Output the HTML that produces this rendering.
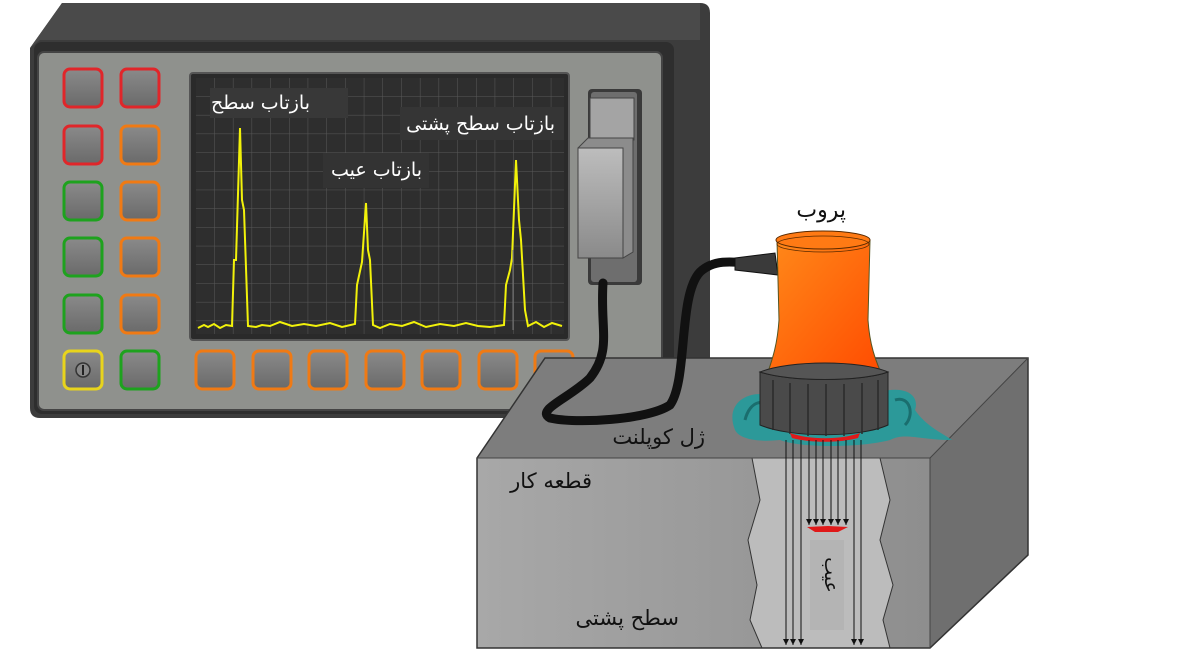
<!DOCTYPE html>
<html><head><meta charset="utf-8"><style>
html,body{margin:0;padding:0;background:#fff;width:1200px;height:653px;overflow:hidden}
svg text{font-family:"DejaVu Sans","Liberation Sans",sans-serif}
</style></head><body>
<svg width="1200" height="653" viewBox="0 0 1200 653" xmlns="http://www.w3.org/2000/svg">
<defs>
<linearGradient id="btn" x1="0" y1="0" x2="0" y2="1"><stop offset="0" stop-color="#8a8a8a"/><stop offset="1" stop-color="#6a6a6a"/></linearGradient>
<linearGradient id="org" x1="0" y1="0" x2="1" y2="1"><stop offset="0" stop-color="#ff8a1a"/><stop offset="1" stop-color="#ff4a00"/></linearGradient>
<linearGradient id="front" x1="0" y1="0" x2="1" y2="0"><stop offset="0" stop-color="#a8a8a8"/><stop offset="1" stop-color="#8e8e8e"/></linearGradient>
<linearGradient id="plug" x1="0" y1="0" x2="0" y2="1"><stop offset="0" stop-color="#bdbdbd"/><stop offset="1" stop-color="#8a8a8a"/></linearGradient>
<marker id="ar" markerWidth="6" markerHeight="6" refX="6" refY="3" orient="auto" markerUnits="userSpaceOnUse"><path d="M0,0 L6,3 L0,6 Z" fill="#111"/></marker>
<pattern id="grid" width="18.7" height="18.7" patternUnits="userSpaceOnUse" x="196" y="78"><path d="M18.7 0 V18.7 M0 18.7 H18.7" stroke="#595959" stroke-width="1" fill="none"/></pattern>
</defs>
<!-- device body -->
<path d="M62,3 L700,3 Q710,3 710,13 L710,410 Q710,418 700,418 L40,418 Q30,418 30,408 L30,48 Z" fill="#3c3c3c"/>
<path d="M30,48 L62,3 L700,3 L700,40 L40,40 Z" fill="#4a4a4a"/>
<rect x="34" y="42" width="640" height="372" rx="8" fill="#2e2e2e"/>
<rect x="38" y="52" width="624" height="358" rx="6" fill="#8f918d" stroke="#444" stroke-width="2"/>
<!-- screen -->
<rect x="190" y="73" width="379" height="267" rx="3" fill="#2a2a2a" stroke="#555" stroke-width="2"/>
<rect x="196" y="78" width="368" height="256" fill="#2e2e2e"/>
<rect x="196" y="78" width="368" height="256" fill="url(#grid)"/>
<rect x="210" y="88" width="138" height="30" fill="#383838"/>
<rect x="400" y="107" width="164" height="33" fill="#353535"/>
<rect x="323" y="153" width="106" height="35" fill="#333"/>
<polyline fill="none" stroke="#f2f20a" stroke-width="2" points="198,328 204,325 208,327 214,324 220,328 226,325 232,326 234,260 236,260 240,128 242,200 244,210 248,326 256,327 262,325 270,326 280,322 292,326 304,324 316,326 330,323 342,327 355,324 357,285 362,262 366,203 368,250 370,260 373,325 380,328 390,324 402,326 414,322 426,327 440,324 454,326 466,323 478,326 490,327 504,325 506,285 510,270 512,258 516,160 519,220 521,240 525,310 528,326 536,322 544,327 552,323 562,326"/>
<line x1="513" y1="250" x2="513" y2="330" stroke="#777" stroke-width="1"/>
<text x="310" y="109" fill="#fff" font-size="19" text-anchor="end">بازتاب سطح</text>
<text x="555" y="130" fill="#fff" font-size="19" text-anchor="end">بازتاب سطح پشتی</text>
<text x="422" y="176" fill="#fff" font-size="19" text-anchor="end">بازتاب عیب</text>
<!-- buttons -->
<g stroke-width="3">
<rect x="64" y="69" width="38" height="38" rx="6" fill="url(#btn)" stroke="#e0262a"/>
<rect x="121" y="69" width="38" height="38" rx="6" fill="url(#btn)" stroke="#e0262a"/>
<rect x="64" y="126" width="38" height="38" rx="6" fill="url(#btn)" stroke="#e0262a"/>
<rect x="121" y="126" width="38" height="38" rx="6" fill="url(#btn)" stroke="#f07a14"/>
<rect x="64" y="182" width="38" height="38" rx="6" fill="url(#btn)" stroke="#1ea21e"/>
<rect x="121" y="182" width="38" height="38" rx="6" fill="url(#btn)" stroke="#f07a14"/>
<rect x="64" y="238" width="38" height="38" rx="6" fill="url(#btn)" stroke="#1ea21e"/>
<rect x="121" y="238" width="38" height="38" rx="6" fill="url(#btn)" stroke="#f07a14"/>
<rect x="64" y="295" width="38" height="38" rx="6" fill="url(#btn)" stroke="#1ea21e"/>
<rect x="121" y="295" width="38" height="38" rx="6" fill="url(#btn)" stroke="#f07a14"/>
<rect x="64" y="351" width="38" height="38" rx="6" fill="url(#btn)" stroke="#e8d41c"/>
<rect x="121" y="351" width="38" height="38" rx="6" fill="url(#btn)" stroke="#1ea21e"/>
<rect x="196" y="351" width="38" height="38" rx="6" fill="url(#btn)" stroke="#f07a14"/>
<rect x="253" y="351" width="38" height="38" rx="6" fill="url(#btn)" stroke="#f07a14"/>
<rect x="309" y="351" width="38" height="38" rx="6" fill="url(#btn)" stroke="#f07a14"/>
<rect x="366" y="351" width="38" height="38" rx="6" fill="url(#btn)" stroke="#f07a14"/>
<rect x="422" y="351" width="38" height="38" rx="6" fill="url(#btn)" stroke="#f07a14"/>
<rect x="479" y="351" width="38" height="38" rx="6" fill="url(#btn)" stroke="#f07a14"/>
<rect x="535" y="351" width="38" height="38" rx="6" fill="url(#btn)" stroke="#f07a14"/>
</g>
<circle cx="83" cy="370" r="7" fill="#888" stroke="#333" stroke-width="1.5"/><line x1="83" y1="365" x2="83" y2="375" stroke="#222" stroke-width="2"/>
<!-- connector -->
<rect x="588" y="89" width="54" height="196" rx="4" fill="#3a3a3a"/>
<rect x="591" y="92" width="46" height="190" rx="3" fill="#6e6e6e"/>
<rect x="590" y="98" width="44" height="42" fill="#a4a4a4" stroke="#444"/>
<path d="M578,148 L588,138 L633,138 L633,252 L623,258 Z" fill="#8c8c8c" stroke="#444"/>
<rect x="578" y="148" width="45" height="110" fill="url(#plug)" stroke="#444"/>
<!-- block -->
<polygon points="477,458 545,358 1028,358 930,458" fill="#7d7d7d"/>
<polygon points="930,458 1028,358 1028,555 930,648" fill="#6f6f6f"/>
<rect x="477" y="458" width="453" height="190" fill="url(#front)"/>
<polygon points="752,458 760,500 748,540 757,585 750,620 762,648 890,648 883,620 893,585 880,540 890,500 880,458" fill="#bcbcbc" stroke="#333" stroke-width="1"/>
<polygon points="477,458 545,358 1028,358 1028,555 930,648 477,648" fill="none" stroke="#333" stroke-width="1.5"/>
<line x1="477" y1="458" x2="930" y2="458" stroke="#444"/><line x1="930" y1="458" x2="1028" y2="358" stroke="#444"/><line x1="930" y1="458" x2="930" y2="648" stroke="#444"/>
<!-- cable -->
<path d="M603,283 C600,330 612,350 590,378 C570,398 535,410 550,418 C575,424 648,420 670,405 C688,380 678,295 700,272 C715,258 735,262 760,264" fill="none" stroke="#111" stroke-width="9" stroke-linecap="round"/>
<path d="M735,258 L775,253 L778,275 L735,270 Z" fill="#3a3a3a" stroke="#111"/>
<!-- gel -->
<path d="M735,430 C725,405 745,390 770,395 L880,392 C905,385 920,395 915,410 C925,425 940,432 952,440 C920,440 905,432 890,440 C860,448 800,448 780,440 C760,442 740,440 735,430 Z" fill="#239c9c" opacity="0.9"/>
<path d="M745,420 C750,400 765,398 770,410 M895,400 C910,395 915,415 905,425" stroke="#1a6e6e" stroke-width="3" fill="none"/>
<!-- probe -->
<path d="M777,240 L779,320 C777,350 770,365 766,378 L883,378 C878,365 870,350 868,320 L870,240 Z" fill="url(#org)" stroke="#552" stroke-width="1"/>
<ellipse cx="823" cy="240" rx="47" ry="9" fill="#ff7a14" stroke="#5a2a00"/>
<ellipse cx="823" cy="244" rx="46" ry="8" fill="none" stroke="#5a2a00" stroke-width="0.8"/>
<path d="M760,372 L760,425 C790,438 860,438 888,425 L888,372 C860,382 790,382 760,372 Z" fill="#4a4a4a" stroke="#222"/>
<path d="M760,372 C790,360 860,360 888,372 C860,382 790,382 760,372 Z" fill="#555" stroke="#222"/>
<g stroke="#2a2a2a" stroke-width="1.5"><line x1="773" y1="380" x2="773" y2="430"/><line x1="790" y1="383" x2="790" y2="434"/><line x1="808" y1="384" x2="808" y2="436"/><line x1="826" y1="384" x2="826" y2="436"/><line x1="844" y1="384" x2="844" y2="436"/><line x1="862" y1="383" x2="862" y2="434"/><line x1="878" y1="380" x2="878" y2="430"/></g>
<path d="M790,433 C810,440 840,440 860,433 L858,438 C840,443 810,443 792,438 Z" fill="#e01a1a"/>
<!-- beams -->
<g stroke="#111" stroke-width="1" marker-end="url(#ar)">
<line x1="786" y1="440" x2="786" y2="645"/><line x1="793" y1="440" x2="793" y2="645"/><line x1="801" y1="440" x2="801" y2="645"/>
<line x1="854" y1="440" x2="854" y2="645"/><line x1="861" y1="440" x2="861" y2="645"/>
<line x1="809" y1="440" x2="809" y2="525"/><line x1="816" y1="440" x2="816" y2="525"/><line x1="823" y1="440" x2="823" y2="525"/><line x1="831" y1="440" x2="831" y2="525"/><line x1="838" y1="440" x2="838" y2="525"/><line x1="846" y1="440" x2="846" y2="525"/>
</g>
<polygon points="807,527 828,526 848,527 838,532 815,532" fill="#e01a1a"/>
<rect x="810" y="540" width="34" height="90" fill="#b4b4b4"/>
<text transform="translate(825,575) rotate(90)" font-size="19" fill="#111" text-anchor="middle">عیب</text>
<!-- labels -->
<text x="846" y="217" font-size="22" fill="#111" text-anchor="end">پروب</text>
<text x="705" y="444" font-size="21" fill="#111" text-anchor="end">ژل کوپلنت</text>
<text x="592" y="488" font-size="21" fill="#111" text-anchor="end">قطعه کار</text>
<text x="679" y="625" font-size="21" fill="#111" text-anchor="end">سطح پشتی</text>
</svg>
</body></html>
